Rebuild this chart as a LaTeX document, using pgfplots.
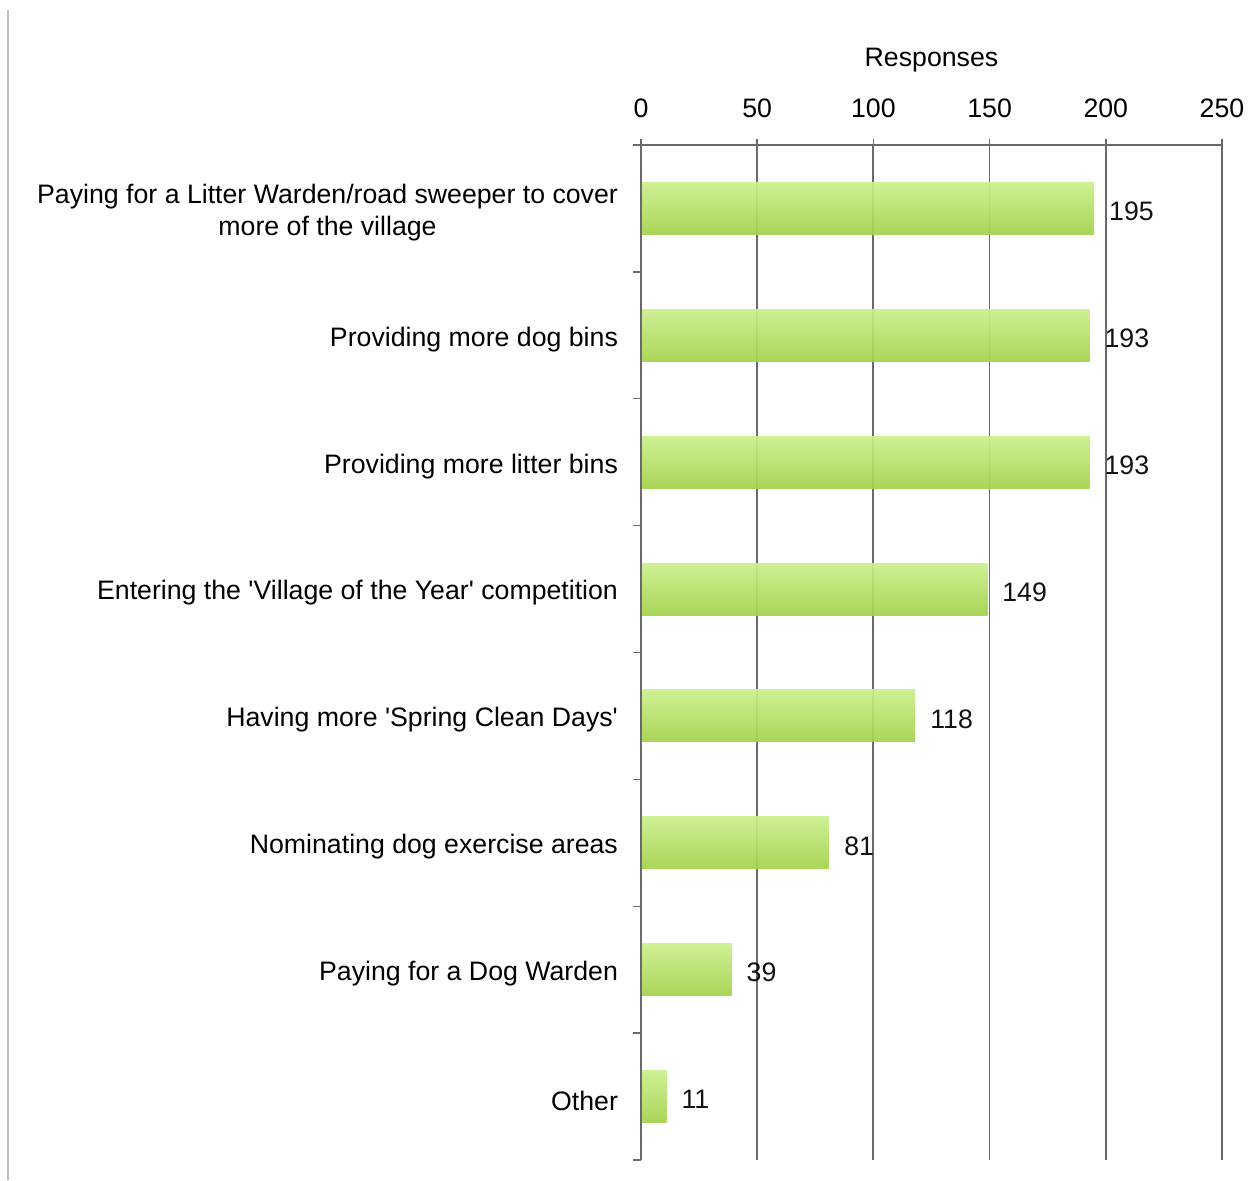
\documentclass[border=0pt]{standalone}
\usepackage{fontspec}
\setmainfont{Liberation Sans}
\usepackage{pgfplots}
\pgfplotsset{compat=1.18}
\definecolor{barTop}{HTML}{CBEF8C}
\definecolor{barBot}{HTML}{A3D24C}
\definecolor{gridc}{HTML}{6A6A6A}
\begin{document}
\begin{tikzpicture}
\useasboundingbox (-320.5pt,-10pt) rectangle (308pt,580pt);
\draw[draw=black!25, line width=1pt] (-316.5pt,-10pt) -- (-316.5pt,575pt);
\begin{axis}[
  at={(0,0)}, anchor=south west,
  scale only axis, width=290.5pt, height=507.5pt,
  xbar, bar width=26pt, bar shift=0pt,
  xmin=0, xmax=250, ymin=-0.5, ymax=7.5, y dir=reverse,
  xtick={0,50,100,150,200,250},
  xtick pos=right, xticklabel pos=right,
  ytick={0,...,7}, ytick pos=left,
  yticklabels={{Paying for a Litter Warden/road sweeper to cover\\more of the village},
    {Providing more dog bins},
    {Providing more litter bins},
    {Entering the \textquotesingle Village of the Year\textquotesingle\ competition},
    {Having more \textquotesingle Spring Clean Days\textquotesingle},
    {Nominating dog exercise areas},
    {Paying for a Dog Warden},
    {Other}},
  minor ytick={-0.5,0.5,...,7.5},
  major y tick style={draw=none},
  minor y tick style={draw=gridc, line width=0.7pt},
  x tick style={draw=gridc, line width=0.8pt},
  tick align=outside,
  major tick length=3pt, minor tick length=4pt,
  xmajorgrids, major grid style={draw=gridc, line width=0.9pt},
  axis line style={draw=none},
  /pgf/number format/assume math mode=true,
  xticklabel style={font=\fontsize{13.35}{16}\selectfont, yshift=7pt},
  yticklabel style={font=\fontsize{13.35}{16}\selectfont, align=center, xshift=-5pt, yshift=-2pt},
  xlabel={Responses},
  every axis x label/.style={at={(axis description cs:0.5,1)}, anchor=center, yshift=42.5pt, font=\fontsize{13.35}{16}\selectfont},
  nodes near coords,
  nodes near coords align={horizontal},
  every node near coord/.append style={font=\fontsize{13.35}{16}\selectfont, text=black, xshift=4pt, yshift=-1.5pt},
  clip=false,
  barstyle/.style={draw=none, top color=barTop, bottom color=barBot, fill opacity=0.93},
]
\addplot[barstyle] coordinates {(195,0)};
\addplot[barstyle] coordinates {(193,1)};
\addplot[barstyle] coordinates {(193,2)};
\addplot[barstyle] coordinates {(149,3)};
\addplot[barstyle] coordinates {(118,4)};
\addplot[barstyle] coordinates {(81,5)};
\addplot[barstyle] coordinates {(39,6)};
\addplot[barstyle] coordinates {(11,7)};
\draw[gridc, line width=0.9pt] (rel axis cs:0,0) -- (rel axis cs:0,1) -- (rel axis cs:1,1);
\end{axis}
\end{tikzpicture}
\end{document}
